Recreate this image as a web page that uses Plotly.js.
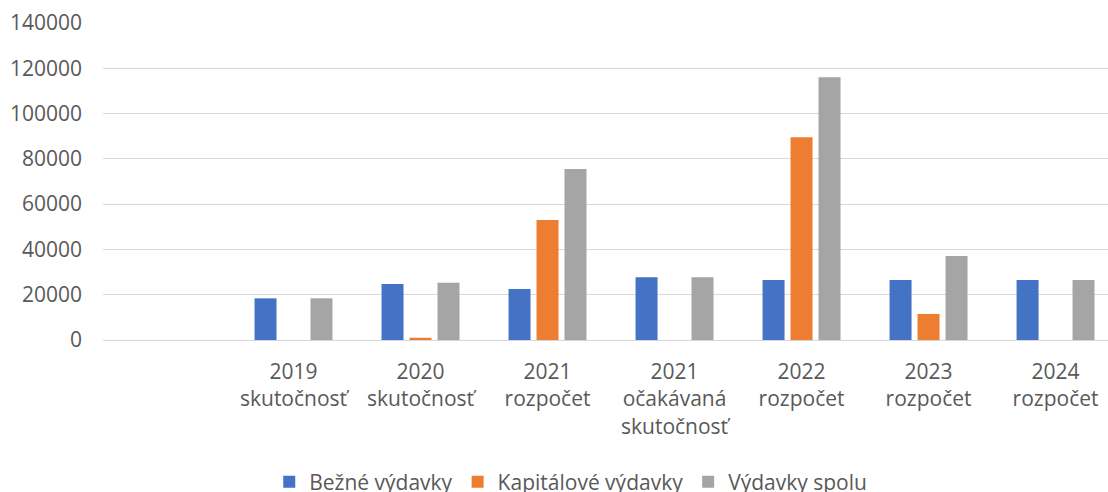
<!DOCTYPE html>
<html>
<head>
<meta charset="utf-8">
<script src="https://cdn.plot.ly/plotly-3.0.1.min.js"></script>
<style>
html,body{margin:0;padding:0;background:#fff;}
#chart{width:1108px;height:492px;}
</style>
</head>
<body>
<div id="chart"></div>
<script>
// Categories (first one is an empty slot, as in the reference)
const categories = ['', '2019<br>skutočnosť', '2020<br>skutočnosť', '2021<br>rozpočet',
  '2021<br>očakávaná<br>skutočnosť', '2022<br>rozpočet', '2023<br>rozpočet', '2024<br>rozpočet'];

// Series values
const bezneVydavky      = [null, 18400, 24700, 22500, 27700, 26500, 26500, 26500];
const kapitaloveVydavky = [null, null, 1000, 53000, null, 89500, 11500, null];
const vydavkySpolu      = [null, 18400, 25300, 75500, 27700, 116000, 37100, 26500];

const seriesNames = ['Bežné výdavky', 'Kapitálové výdavky', 'Výdavky spolu'];
const seriesColors = ['#4472C4', '#ED7D31', '#A5A5A5'];

const yTicks = [0, 20000, 40000, 60000, 80000, 100000, 120000, 140000];

const xIdx = categories.map((c, i) => i);
const allSeries = [bezneVydavky, kapitaloveVydavky, vydavkySpolu];

const font = 'Open Sans, sans-serif';
const txt = '#595959';

const traces = allSeries.map((vals, k) => ({
  type: 'bar',
  name: seriesNames[k],
  x: xIdx,
  y: vals,
  marker: {color: seriesColors[k], line: {width: 0}},
  hoverinfo: 'x+y+name'
}));

const layout = {
  width: 1108,
  height: 492,
  margin: {l: 103, r: 0, t: 23, b: 152},
  paper_bgcolor: '#ffffff',
  plot_bgcolor: '#ffffff',
  barmode: 'group',
  bargap: 0.339,
  bargroupgap: 0.214,
  font: {family: font, size: 21, color: txt},
  xaxis: {
    range: [-0.5, 7.413],
    tickmode: 'array',
    tickvals: xIdx,
    ticktext: categories,
    showgrid: false,
    zeroline: false,
    showline: false,
    ticks: '',
    ticklabelstandoff: 17,
    tickfont: {family: font, size: 21, color: txt}
  },
  yaxis: {
    range: [0, 140000],
    tickmode: 'array',
    tickvals: yTicks,
    ticktext: yTicks.map(String),
    showgrid: true,
    gridcolor: '#D9D9D9',
    gridwidth: 1,
    zeroline: true,
    zerolinecolor: '#D9D9D9',
    zerolinewidth: 1,
    showline: false,
    ticks: '',
    ticklabelstandoff: 20,
    tickfont: {family: font, size: 21, color: txt}
  },
  showlegend: true,
  legend: {
    orientation: 'h',
    xref: 'container',
    yref: 'container',
    x: 0.243,
    xanchor: 'left',
    y: 0.02,
    yanchor: 'middle',
    font: {family: font, size: 21, color: txt},
    bgcolor: 'rgba(0,0,0,0)',
    traceorder: 'normal'
  }
};

Plotly.newPlot('chart', traces, layout, {displayModeBar: false, staticPlot: true});
</script>
</body>
</html>
